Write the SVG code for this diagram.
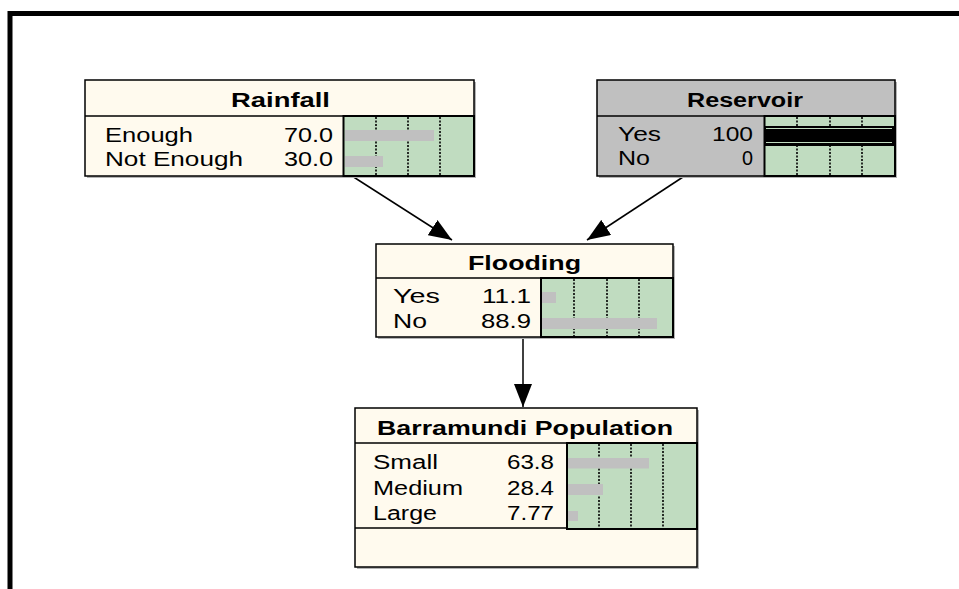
<svg xmlns="http://www.w3.org/2000/svg" width="959" height="589" viewBox="0 0 959 589">
  <style>
    .node { fill: #fffaee; stroke: #000; stroke-width: 1.5; }
    .node.grey { fill: #c0c0c0; }
    .shadow { fill: #b4b4b4; }
    .div { stroke: #000; stroke-width: 1.5; }
    .meter { fill: #c0dcc0; stroke: #000; stroke-width: 2; }
    .tick { stroke: #000; stroke-width: 1.6; stroke-dasharray: 2 1.5; }
    .bar { fill: #c0c0c0; }
    .title { font-family: "Liberation Sans", Arial, sans-serif; font-weight: bold; font-size: 20px; fill: #000; }
    .lbl { font-family: "Liberation Sans", Arial, sans-serif; font-size: 20px; fill: #000; }
    .edge { stroke: #000; stroke-width: 1.5; fill: none; }
  </style>
  <defs>
    <marker id="arrow" markerUnits="userSpaceOnUse" markerWidth="23" markerHeight="18" refX="23" refY="9" orient="auto">
      <path d="M0,0 L23,9 L0,18 z" fill="#000"/>
    </marker>
  </defs>

  <rect width="959" height="589" fill="#fff"/>
  <!-- window frame -->
  <path d="M10 589 V13.5 H959" fill="none" stroke="#000" stroke-width="5"/>

  <!-- connectors -->
  <g id="edges">
    <line class="edge" x1="352" y1="176" x2="452" y2="240" marker-end="url(#arrow)"/>
    <line class="edge" x1="683" y1="177" x2="587" y2="240" marker-end="url(#arrow)"/>
    <line class="edge" x1="523" y1="337" x2="523" y2="407" marker-end="url(#arrow)"/>
  </g>

  <!-- Rainfall -->
  <g id="rainfall">
    <rect class="shadow" x="87" y="82" width="389" height="96"/>
    <rect class="node" x="85" y="80" width="389" height="96"/>
    <line class="div" x1="85" y1="116" x2="474" y2="116"/>
    <rect class="meter" x="343.5" y="116" width="130.5" height="60"/>
    <line class="tick" x1="376" y1="117" x2="376" y2="175"/>
    <line class="tick" x1="408" y1="117" x2="408" y2="175"/>
    <line class="tick" x1="440" y1="117" x2="440" y2="175"/>
    <rect class="bar" x="345" y="130" width="89" height="11"/>
    <rect class="bar" x="345" y="156" width="38" height="11"/>
    <text class="title" x="231" y="107" textLength="99" lengthAdjust="spacingAndGlyphs">Rainfall</text>
    <text class="lbl" x="105" y="142" textLength="88" lengthAdjust="spacingAndGlyphs">Enough</text>
    <text class="lbl" x="105" y="166" textLength="138" lengthAdjust="spacingAndGlyphs">Not Enough</text>
    <text class="lbl" x="284" y="142" textLength="49" lengthAdjust="spacingAndGlyphs">70.0</text>
    <text class="lbl" x="284" y="166" textLength="49" lengthAdjust="spacingAndGlyphs">30.0</text>
  </g>

  <!-- Reservoir (observed) -->
  <g id="reservoir">
    <rect class="shadow" x="599" y="82" width="298" height="96"/>
    <rect class="node grey" x="597" y="80" width="298" height="96"/>
    <line class="div" x1="597" y1="116" x2="895" y2="116"/>
    <rect class="meter" x="764.5" y="116" width="130.5" height="60"/>
    <line class="tick" x1="797" y1="117" x2="797" y2="175"/>
    <line class="tick" x1="830" y1="117" x2="830" y2="175"/>
    <line class="tick" x1="862" y1="117" x2="862" y2="175"/>
    <rect x="765" y="126" width="130" height="20" fill="#000"/>
    <line x1="766" y1="128.5" x2="892" y2="128.5" stroke="#c0dcc0" stroke-width="1.2"/>
    <line x1="766" y1="142.5" x2="892" y2="142.5" stroke="#c0dcc0" stroke-width="1.2"/>
    <text class="title" x="687" y="107" textLength="116" lengthAdjust="spacingAndGlyphs">Reservoir</text>
    <text class="lbl" x="618" y="141" textLength="43" lengthAdjust="spacingAndGlyphs">Yes</text>
    <text class="lbl" x="618" y="165" textLength="32" lengthAdjust="spacingAndGlyphs">No</text>
    <text class="lbl" x="712" y="141" textLength="41" lengthAdjust="spacingAndGlyphs">100</text>
    <text class="lbl" x="742" y="165" textLength="11" lengthAdjust="spacingAndGlyphs">0</text>
  </g>

  <!-- Flooding -->
  <g id="flooding">
    <rect class="shadow" x="378" y="246" width="297" height="93"/>
    <rect class="node" x="376" y="244" width="297" height="93"/>
    <line class="div" x1="376" y1="278" x2="673" y2="278"/>
    <rect class="meter" x="541" y="278" width="132" height="59"/>
    <line class="tick" x1="574" y1="279" x2="574" y2="336"/>
    <line class="tick" x1="607" y1="279" x2="607" y2="336"/>
    <line class="tick" x1="639" y1="279" x2="639" y2="336"/>
    <rect class="bar" x="542" y="292" width="14" height="11"/>
    <rect class="bar" x="542" y="318" width="115" height="11"/>
    <text class="title" x="468" y="270" textLength="113" lengthAdjust="spacingAndGlyphs">Flooding</text>
    <text class="lbl" x="393" y="303" textLength="47" lengthAdjust="spacingAndGlyphs">Yes</text>
    <text class="lbl" x="393" y="328" textLength="34" lengthAdjust="spacingAndGlyphs">No</text>
    <text class="lbl" x="482" y="303" textLength="49" lengthAdjust="spacingAndGlyphs">11.1</text>
    <text class="lbl" x="481" y="328" textLength="50" lengthAdjust="spacingAndGlyphs">88.9</text>
  </g>

  <!-- Barramundi Population -->
  <g id="barramundi">
    <rect class="shadow" x="357" y="410" width="342" height="159"/>
    <rect class="node" x="355" y="408" width="342" height="159"/>
    <line class="div" x1="355" y1="443" x2="697" y2="443"/>
    <line class="div" x1="355" y1="528" x2="697" y2="528"/>
    <rect class="meter" x="567" y="443" width="130" height="86"/>
    <line class="tick" x1="599" y1="444" x2="599" y2="528"/>
    <line class="tick" x1="631" y1="444" x2="631" y2="528"/>
    <line class="tick" x1="663" y1="444" x2="663" y2="528"/>
    <rect class="bar" x="568" y="458" width="81" height="10.5"/>
    <rect class="bar" x="568" y="484" width="35" height="11"/>
    <rect class="bar" x="568" y="511" width="10" height="10"/>
    <text class="title" x="377" y="435" textLength="296" lengthAdjust="spacingAndGlyphs">Barramundi Population</text>
    <text class="lbl" x="373" y="469" textLength="65" lengthAdjust="spacingAndGlyphs">Small</text>
    <text class="lbl" x="373" y="495" textLength="90" lengthAdjust="spacingAndGlyphs">Medium</text>
    <text class="lbl" x="373" y="520" textLength="64" lengthAdjust="spacingAndGlyphs">Large</text>
    <text class="lbl" x="507" y="469" textLength="47" lengthAdjust="spacingAndGlyphs">63.8</text>
    <text class="lbl" x="507" y="495" textLength="47" lengthAdjust="spacingAndGlyphs">28.4</text>
    <text class="lbl" x="507" y="520" textLength="47" lengthAdjust="spacingAndGlyphs">7.77</text>
  </g>
</svg>
